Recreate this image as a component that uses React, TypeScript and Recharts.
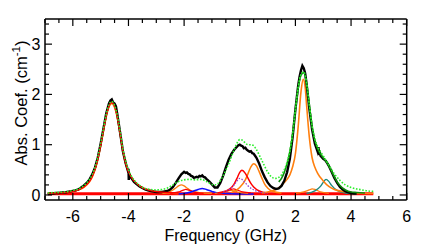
import { LineChart, Line, XAxis, YAxis } from 'recharts'

const FONT = '"Liberation Sans", Arial, Helvetica, sans-serif'

// axis ticks
const xTicks = [-7, -6.5, -6, -5.5, -5, -4.5, -4, -3.5, -3, -2.5, -2, -1.5, -1, -0.5, 0, 0.5, 1, 1.5, 2, 2.5, 3, 3.5, 4, 4.5, 5, 5.5, 6]
const xTickLabels = [-6, -4, -2, 0, 2, 4, 6]
const yTicks = [0, 0.2, 0.4, 0.6, 0.8, 1, 1.2, 1.4, 1.6, 1.8, 2, 2.2, 2.4, 2.6, 2.8, 3, 3.2, 3.4]
const yTickLabels = [0, 1, 2, 3]

// measured spectrum (black)
const blackFreq = [
  -6.9, -6.8, -6.7, -6.6, -6.5, -6.4, -6.3, -6.2, -6.1, -6.0,
  -5.9, -5.8, -5.7, -5.6, -5.5, -5.4, -5.3, -5.2, -5.1, -5.0,
  -4.9, -4.8, -4.7, -4.65, -4.6, -4.55, -4.5, -4.45, -4.4, -4.3,
  -4.2, -4.1, -4.02, -4.0, -3.99, -3.97, -3.9, -3.8, -3.7, -3.6,
  -3.5, -3.4, -3.3, -3.2, -3.1, -3.0, -2.9, -2.8, -2.7, -2.6,
  -2.5, -2.4, -2.3, -2.2, -2.1, -2.0, -1.95, -1.9, -1.85, -1.8,
  -1.75, -1.7, -1.65, -1.6, -1.55, -1.5, -1.45, -1.4, -1.35, -1.3,
  -1.25, -1.2, -1.1, -1.0, -0.9, -0.8, -0.7, -0.6, -0.5, -0.4,
  -0.3, -0.2, -0.1, -0.05, 0, 0.05, 0.1, 0.15, 0.2, 0.25,
  0.3, 0.35, 0.4, 0.45, 0.5, 0.55, 0.6, 0.7, 0.8, 0.9,
  1.0, 1.1, 1.2, 1.3, 1.4, 1.5, 1.6, 1.7, 1.8, 1.9,
  2.0, 2.1, 2.15, 2.2, 2.25, 2.3, 2.35, 2.4, 2.5, 2.6,
  2.7, 2.8, 2.83, 2.85, 2.87, 2.9, 3.0, 3.05, 3.1, 3.15,
  3.2, 3.3, 3.4, 3.5, 3.6, 3.7, 3.8, 3.9, 4.0, 4.1,
  4.2,
]
const blackAbs = [
  0.02, 0.03, 0.03, 0.04, 0.04, 0.05, 0.05, 0.06, 0.07, 0.08,
  0.09, 0.11, 0.15, 0.19, 0.24, 0.31, 0.41, 0.55, 0.75, 1.02,
  1.32, 1.62, 1.82, 1.88, 1.90, 1.84, 1.82, 1.76, 1.60, 1.24,
  0.87, 0.63, 0.48, 0.52, 0.30, 0.42, 0.34, 0.26, 0.21, 0.17,
  0.14, 0.11, 0.09, 0.08, 0.07, 0.06, 0.06, 0.06, 0.07, 0.08,
  0.11, 0.16, 0.24, 0.33, 0.41, 0.46, 0.44, 0.45, 0.42, 0.41,
  0.38, 0.37, 0.34, 0.35, 0.36, 0.35, 0.38, 0.37, 0.39, 0.36,
  0.35, 0.32, 0.27, 0.21, 0.15, 0.15, 0.24, 0.38, 0.55, 0.70,
  0.82, 0.90, 0.96, 0.99, 1.00, 0.98, 0.97, 0.93, 0.94, 0.90,
  0.88, 0.86, 0.87, 0.83, 0.82, 0.78, 0.74, 0.62, 0.47, 0.35,
  0.25, 0.18, 0.14, 0.12, 0.13, 0.18, 0.28, 0.45, 0.72, 1.15,
  1.70, 2.18, 2.35, 2.48, 2.57, 2.52, 2.42, 2.22, 1.72, 1.30,
  1.02, 0.86, 0.95, 0.80, 0.88, 0.78, 0.72, 0.70, 0.67, 0.63,
  0.58, 0.46, 0.34, 0.24, 0.16, 0.11, 0.07, 0.05, 0.04, 0.03,
  0.03,
]

// total fit (light green dotted)
const totalFreq = [
  -6.9, -6.6, -6.3, -6.0, -5.8, -5.6, -5.4, -5.3, -5.2, -5.1,
  -5.0, -4.9, -4.8, -4.7, -4.6, -4.5, -4.4, -4.3, -4.2, -4.1,
  -4.0, -3.9, -3.8, -3.6, -3.4, -3.2, -3.0, -2.8, -2.6, -2.4,
  -2.2, -2.0, -1.8, -1.6, -1.4, -1.2, -1.0, -0.9, -0.8, -0.6,
  -0.4, -0.2, -0.1, 0, 0.1, 0.2, 0.3, 0.4, 0.5, 0.6,
  0.8, 1.0, 1.2, 1.3, 1.4, 1.6, 1.8, 1.9, 2.0, 2.1,
  2.2, 2.3, 2.4, 2.5, 2.6, 2.7, 2.8, 3.0, 3.2, 3.4,
  3.6, 3.8, 4.0, 4.2, 4.4, 4.6, 4.8,
]
const totalAbs = [
  0.04, 0.05, 0.06, 0.09, 0.12, 0.19, 0.31, 0.41, 0.55, 0.76,
  1.02, 1.32, 1.60, 1.80, 1.86, 1.78, 1.58, 1.26, 0.91, 0.67,
  0.50, 0.38, 0.30, 0.19, 0.13, 0.11, 0.10, 0.11, 0.14, 0.20,
  0.27, 0.30, 0.31, 0.30, 0.31, 0.27, 0.21, 0.20, 0.22, 0.38,
  0.62, 0.90, 1.03, 1.10, 1.09, 1.03, 1.00, 1.00, 0.98, 0.90,
  0.68, 0.46, 0.34, 0.33, 0.35, 0.50, 0.88, 1.24, 1.70, 2.14,
  2.40, 2.45, 2.24, 1.80, 1.38, 1.12, 0.96, 0.78, 0.60, 0.42,
  0.29, 0.20, 0.15, 0.12, 0.10, 0.08, 0.07,
]

// fit around the 2.3 GHz line (dark green)
const fitFreq = [1.4, 1.5, 1.6, 1.7, 1.8, 1.9, 2.0, 2.1, 2.2, 2.3, 2.4, 2.5, 2.6, 2.7, 2.8, 2.9, 3.0, 3.1, 3.2, 3.3, 3.4, 3.5, 3.6, 3.8, 4.0, 4.2, 4.5]
const fitAbs = [0.26, 0.33, 0.45, 0.62, 0.86, 1.2, 1.68, 2.12, 2.38, 2.43, 2.22, 1.78, 1.36, 1.08, 0.92, 0.82, 0.74, 0.67, 0.58, 0.47, 0.36, 0.26, 0.19, 0.1, 0.06, 0.05, 0.04]

// components
const peakAFreq = [-6.9, -6.6, -6.3, -6.0, -5.8, -5.6, -5.4, -5.3, -5.2, -5.1, -5.0, -4.9, -4.8, -4.7, -4.6, -4.5, -4.4, -4.3, -4.2, -4.1, -4.0, -3.8, -3.6, -3.4, -3.2, -3.0, -2.6, -2.2]
const redAAbs = [0.03, 0.04, 0.05, 0.07, 0.1, 0.16, 0.27, 0.37, 0.51, 0.72, 0.98, 1.28, 1.57, 1.77, 1.84, 1.76, 1.55, 1.22, 0.88, 0.63, 0.46, 0.28, 0.18, 0.12, 0.09, 0.07, 0.05, 0.04]
const orangeAAbs = [0.03, 0.04, 0.05, 0.07, 0.1, 0.15, 0.26, 0.36, 0.5, 0.7, 0.96, 1.26, 1.55, 1.75, 1.82, 1.74, 1.53, 1.2, 0.86, 0.61, 0.45, 0.27, 0.17, 0.11, 0.08, 0.06, 0.04, 0.03]

const orangeBFreq = [-2.8, -2.6, -2.4, -2.3, -2.2, -2.1, -2.0, -1.9, -1.8, -1.6, -1.4, -1.0]
const orangeBAbs = [0.03, 0.05, 0.1, 0.14, 0.18, 0.2, 0.18, 0.14, 0.1, 0.06, 0.04, 0.03]

const redBFreq = [-2.5, -2.2, -2.1, -2.0, -1.95, -1.8, -1.6, -1.3]
const redBAbs = [0.03, 0.06, 0.08, 0.1, 0.11, 0.09, 0.05, 0.03]

const blueFreq = [-2.2, -1.9, -1.7, -1.5, -1.35, -1.2, -1.0, -0.8, -0.5, 0, 0.5]
const blueAbs = [0.02, 0.04, 0.07, 0.11, 0.13, 0.11, 0.07, 0.04, 0.03, 0.02, 0.02]

const redCFreq = [-0.8, -0.5, -0.3, -0.2, -0.1, 0, 0.08, 0.2, 0.3, 0.4, 0.5, 0.7, 1.0]
const redCAbs = [0.04, 0.08, 0.15, 0.22, 0.33, 0.45, 0.49, 0.43, 0.33, 0.23, 0.16, 0.08, 0.04]

const purpleFreq = [-0.6, -0.4, -0.2, -0.1, 0, 0.1, 0.2, 0.3, 0.5, 0.7, 1.0]
const purpleAbs = [0.06, 0.1, 0.2, 0.28, 0.33, 0.3, 0.24, 0.18, 0.1, 0.06, 0.03]

const orangeCFreq = [-0.3, 0, 0.2, 0.3, 0.4, 0.5, 0.6, 0.7, 0.8, 0.9, 1.0, 1.2, 1.5]
const orangeCAbs = [0.05, 0.15, 0.3, 0.43, 0.56, 0.62, 0.58, 0.46, 0.33, 0.21, 0.14, 0.07, 0.04]

const redDFreq = [-0.7, -0.5, -0.3, -0.22, -0.1, 0.1, 0.4]
const redDAbs = [0.04, 0.07, 0.11, 0.12, 0.1, 0.06, 0.04]

const orangeDFreq = [-0.9, -0.6, -0.4, -0.3, -0.2, 0, 0.3]
const orangeDAbs = [0.03, 0.05, 0.08, 0.09, 0.08, 0.05, 0.03]

const orangeEFreq = [0.8, 1.0, 1.2, 1.4, 1.6, 1.7, 1.8, 1.9, 2.0, 2.1, 2.2, 2.28, 2.35, 2.4, 2.5, 2.6, 2.7, 2.8, 3.0, 3.2, 3.4, 3.7, 4.2, 4.8]
const orangeEAbs = [0.04, 0.06, 0.09, 0.14, 0.25, 0.31, 0.4, 0.56, 0.82, 1.36, 2.05, 2.3, 2.15, 1.8, 1.15, 0.74, 0.55, 0.43, 0.28, 0.17, 0.11, 0.07, 0.04, 0.03]

const orangeFFreq = [2.0, 2.3, 2.5, 2.6, 2.7, 2.9, 3.2]
const orangeFAbs = [0.03, 0.06, 0.1, 0.12, 0.11, 0.06, 0.03]

const tealFreq = [2.4, 2.7, 2.9, 3.0, 3.1, 3.2, 3.3, 3.5, 3.8, 4.2]
const tealAbs = [0.03, 0.08, 0.17, 0.25, 0.31, 0.27, 0.19, 0.09, 0.04, 0.02]

const baseFreq = [-6.9, 4.8]
const baseAbs = [0.025, 0.025]

const pts = (xs: number[], ys: number[]) => xs.map((f, i) => ({ f, v: ys[i] }))

const near = (a: number, list: number[]) => list.some((b) => Math.abs(a - b) < 1e-6)

function BottomTick({ x, y, payload }: any) {
  const major = near(payload.value, xTickLabels)
  return (
    <g>
      <line x1={x} x2={x} y1={y} y2={y - (major ? 7 : 4)} stroke="#000" strokeWidth={1.2} />
      {major && (
        <text x={x} y={y + 21.5} textAnchor="middle" fontSize={16} fontFamily={FONT} fill="#000">
          {String(payload.value)}
        </text>
      )}
    </g>
  )
}

function TopTick({ x, y, payload }: any) {
  const major = near(payload.value, xTickLabels)
  return <line x1={x} x2={x} y1={y} y2={y + (major ? 7 : 4)} stroke="#000" strokeWidth={1.2} />
}

function LeftTick({ x, y, payload }: any) {
  const major = near(payload.value, yTickLabels)
  return (
    <g>
      <line x1={x} x2={x + (major ? 7 : 4)} y1={y} y2={y} stroke="#000" strokeWidth={1.2} />
      {major && (
        <text x={x - 4.5} y={y + 5.7} textAnchor="end" fontSize={16} fontFamily={FONT} fill="#000">
          {String(payload.value)}
        </text>
      )}
    </g>
  )
}

function RightTick({ x, y, payload }: any) {
  const major = near(payload.value, yTickLabels)
  return <line x1={x} x2={x - (major ? 7 : 4)} y1={y} y2={y} stroke="#000" strokeWidth={1.2} />
}

const axisLine = { stroke: '#000', strokeWidth: 1.5 }

const series = [
  { key: 'base', data: pts(baseFreq, baseAbs), color: '#ff0000', width: 3 },
  { key: 'oA', data: pts(peakAFreq, orangeAAbs), color: '#ff7f0e', width: 1.5 },
  { key: 'oB', data: pts(orangeBFreq, orangeBAbs), color: '#ff7f0e', width: 1.3 },
  { key: 'rB', data: pts(redBFreq, redBAbs), color: '#ff0000', width: 1.3 },
  { key: 'blue', data: pts(blueFreq, blueAbs), color: '#1010ff', width: 1.5 },
  { key: 'oD', data: pts(orangeDFreq, orangeDAbs), color: '#ff7f0e', width: 1.2 },
  { key: 'rD', data: pts(redDFreq, redDAbs), color: '#ff0000', width: 1.2 },
  { key: 'oC', data: pts(orangeCFreq, orangeCAbs), color: '#ff7f0e', width: 1.5 },
  { key: 'rC', data: pts(redCFreq, redCAbs), color: '#ff0000', width: 1.5 },
  { key: 'oF', data: pts(orangeFFreq, orangeFAbs), color: '#ff7f0e', width: 1.3 },
  { key: 'teal', data: pts(tealFreq, tealAbs), color: '#1f8a80', width: 1.4 },
  { key: 'oE', data: pts(orangeEFreq, orangeEAbs), color: '#ff7f0e', width: 1.6 },
]

export default function App() {
  return (
    <div style={{ position: 'absolute', left: 0, top: 0, background: '#fff' }}>
      <LineChart width={440} height={244} margin={{ top: 0, right: 0, bottom: 0, left: 0 }}>
        <XAxis
          xAxisId="b" type="number" dataKey="f" domain={[-7, 6]} ticks={xTicks} interval={0}
          allowDataOverflow orientation="bottom" height={44} tickSize={0} tickMargin={0}
          axisLine={axisLine} tickLine={false} tick={<BottomTick />}
          label={{
            content: () => (
              <text x={225.8} y={241} textAnchor="middle" fontSize={16} fontFamily={FONT} fill="#000">
                Frequency (GHz)
              </text>
            ),
          }}
        />
        <XAxis
          xAxisId="t" type="number" dataKey="f" domain={[-7, 6]} ticks={xTicks} interval={0}
          allowDataOverflow orientation="top" height={19} tickSize={0} tickMargin={0}
          axisLine={axisLine} tickLine={false} tick={<TopTick />}
        />
        <YAxis
          yAxisId="l" type="number" domain={[-0.1, 3.5]} ticks={yTicks} interval={0}
          allowDataOverflow orientation="left" width={45} tickSize={0} tickMargin={0}
          axisLine={axisLine} tickLine={false} tick={<LeftTick />}
          label={{
            content: () => (
              <text
                x={26.5} y={103} transform="rotate(-90 26.5 103)" textAnchor="middle"
                fontSize={16.5} fontFamily={FONT} fill="#000"
              >
                Abs. Coef. (cm
                <tspan fontSize={11.5} dy={-7}>-1</tspan>
                <tspan dy={7}>)</tspan>
              </text>
            ),
          }}
        />
        <YAxis
          yAxisId="r" type="number" domain={[-0.1, 3.5]} ticks={yTicks} interval={0}
          allowDataOverflow orientation="right" width={33.3} tickSize={0} tickMargin={0}
          axisLine={axisLine} tickLine={false} tick={<RightTick />}
        />
        {series.map((s) => (
          <Line
            key={s.key} xAxisId="b" yAxisId="l" data={s.data} dataKey="v" type="monotone"
            stroke={s.color} strokeWidth={s.width} dot={false} activeDot={false} isAnimationActive={false}
          />
        ))}
        <Line
          xAxisId="b" yAxisId="l" data={pts(purpleFreq, purpleAbs)} dataKey="v" type="monotone"
          stroke="#9a3fc9" strokeWidth={1.3} strokeDasharray="1.5 1.5" dot={false} activeDot={false}
          isAnimationActive={false}
        />
        <Line
          xAxisId="b" yAxisId="l" data={pts(blackFreq, blackAbs)} dataKey="v" type="linear"
          stroke="#000" strokeWidth={2.4} dot={false} activeDot={false} isAnimationActive={false}
        />
        <Line
          xAxisId="b" yAxisId="l" data={pts(peakAFreq, redAAbs)} dataKey="v" type="monotone"
          stroke="#ff0000" strokeWidth={1.4} dot={false} activeDot={false} isAnimationActive={false}
        />
        <Line
          xAxisId="b" yAxisId="l" data={pts(fitFreq, fitAbs)} dataKey="v" type="monotone"
          stroke="#0f8a0f" strokeWidth={1.6} dot={false} activeDot={false} isAnimationActive={false}
        />
        <Line
          xAxisId="b" yAxisId="l" data={pts(totalFreq, totalAbs)} dataKey="v" type="monotone"
          stroke="#2bef2b" strokeWidth={1.6} strokeDasharray="1.6 1.6" dot={false} activeDot={false}
          isAnimationActive={false}
        />
      </LineChart>
    </div>
  )
}
